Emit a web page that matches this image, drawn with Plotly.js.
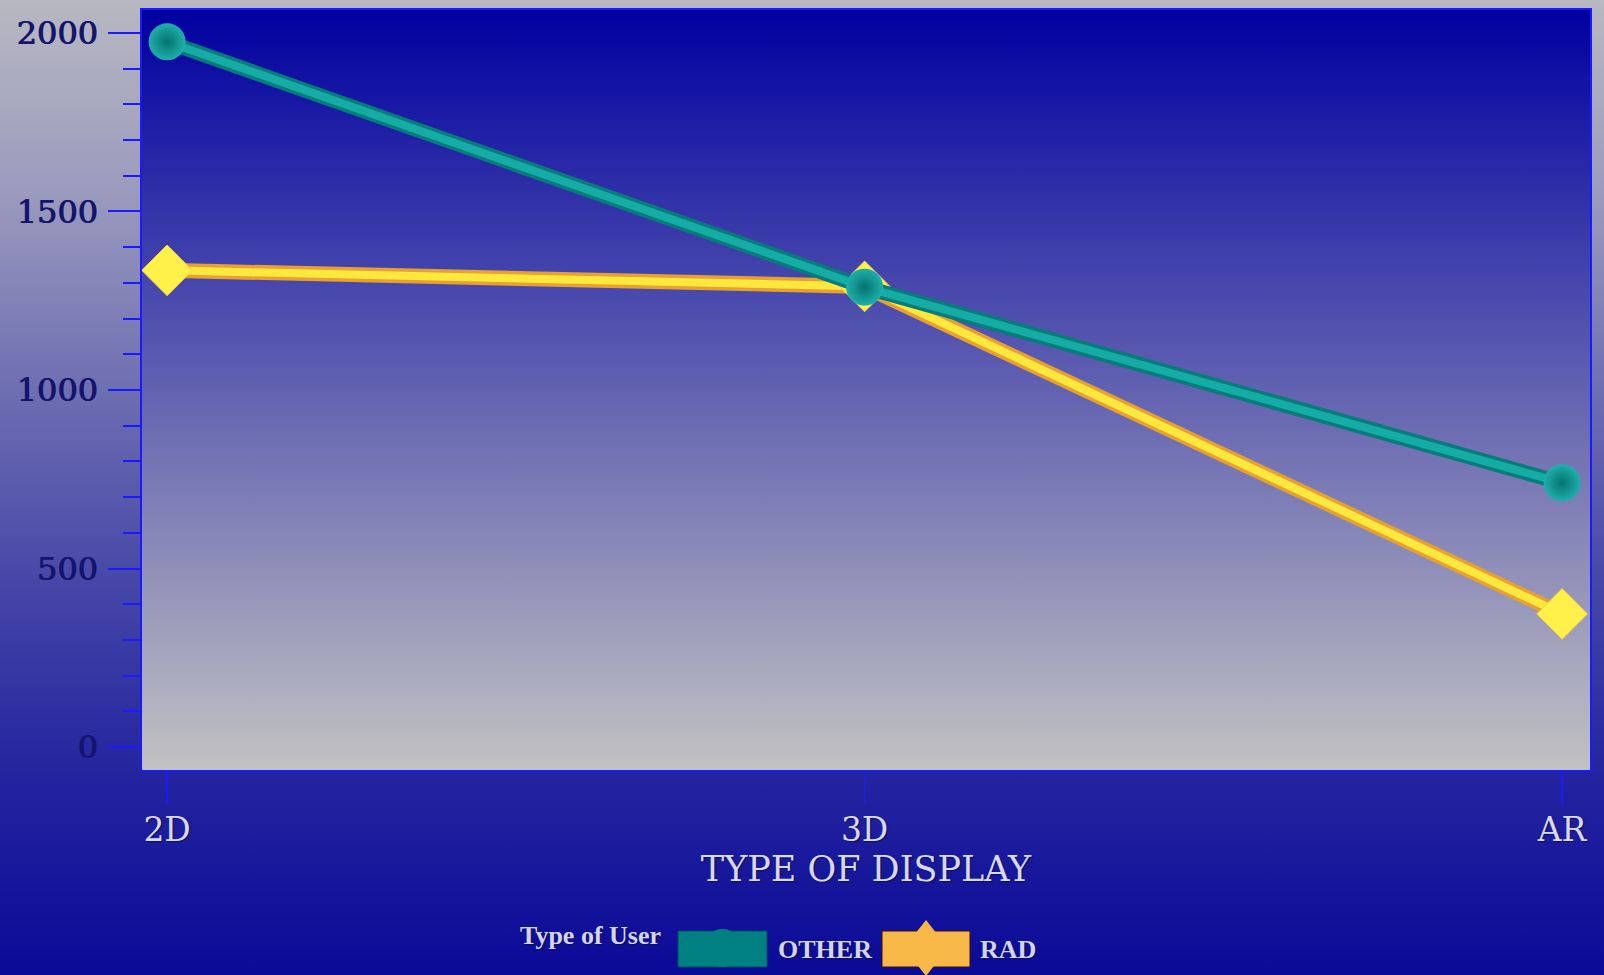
<!DOCTYPE html>
<html><head><meta charset="utf-8">
<script src="https://cdn.plot.ly/plotly-3.0.1.min.js"></script>
<style>
html,body{margin:0;padding:0;overflow:hidden;}
#chart{width:1604px;height:975px;background:linear-gradient(to bottom,#b8b8c2 0%,#9a9abd 20%,#6e6eb2 40%,#4646a8 60%,#2626a0 78%,#0a0a98 100%);}
</style></head><body><div id="chart"></div>
<script>
// ---- data ----
const categories = ['2D', '3D', 'AR'];
const otherValues = [1975, 1288, 740];
const radValues = [1335, 1290, 373];
const seriesNames = ['OTHER', 'RAD'];
const yTickValues = [0, 500, 1000, 1500, 2000];
const yTickLabels = ['0', '500', '1000', '1500', '2000'];
const legendTitle = 'Type of User';
const xTitle = 'TYPE OF DISPLAY';

// ---- layout geometry ----
const W = 1604, H = 975;
const M = {l: 142, r: 14, t: 10, b: 205};
const PW = W - M.l - M.r, PH = H - M.t - M.b;
const px = x => (x - M.l) / PW;
const py = y => (H - M.b - y) / PH;

const serif = 'DejaVu Serif, serif';
const serifNarrow = 'Liberation Serif, Times New Roman, serif';

const plotBg = 'data:image/svg+xml;charset=utf-8,' + encodeURIComponent(
  "<svg xmlns='http://www.w3.org/2000/svg' width='100' height='100' preserveAspectRatio='none'>" +
  "<defs><linearGradient id='g' x1='0' y1='0' x2='0' y2='1'>" +
  "<stop offset='0' stop-color='#0000a0'/><stop offset='0.5' stop-color='#6262b2'/><stop offset='1' stop-color='#c2c2c2'/>" +
  "</linearGradient></defs><rect width='100' height='100' fill='url(#g)'/></svg>");

const traces = [
  // RAD
  {x: categories, y: radValues, name: seriesNames[1], type: 'scatter', mode: 'lines',
   line: {color: '#e8a030', width: 15}, showlegend: false, hoverinfo: 'skip'},
  {x: categories, y: radValues, name: seriesNames[1], type: 'scatter', mode: 'lines+markers',
   line: {color: '#ffe83e', width: 8},
   marker: {symbol: 'diamond', size: 39, color: '#fff04a', line: {width: 1, color: '#f8d040'}},
   showlegend: false},
  // OTHER
  {x: categories, y: otherValues, name: seriesNames[0], type: 'scatter', mode: 'lines',
   line: {color: '#077c7a', width: 15}, showlegend: false, hoverinfo: 'skip'},
  {x: categories, y: otherValues, name: seriesNames[0], type: 'scatter', mode: 'lines+markers',
   line: {color: '#15aca6', width: 8},
   marker: {symbol: 'circle', size: 37, color: '#1eb0ac', gradient: {type: 'radial', color: '#06726e'}, line: {width: 0}},
   showlegend: false}
];

const textFontLight = {family: serifNarrow, size: 26, color: '#d4d4f2', weight: 'bold', shadow: '1px 1px 1px #10104a'};

const shapes = [
  // OTHER swatch
  {type: 'rect', xref: 'paper', yref: 'paper', x0: px(678), x1: px(767), y0: py(967), y1: py(931),
   fillcolor: '#008080', line: {width: 1, color: '#004a60'}},
  {type: 'circle', xref: 'paper', yref: 'paper', x0: px(704), x1: px(741), y0: py(967), y1: py(929),
   fillcolor: '#008080', line: {width: 0}},
  // RAD swatch
  {type: 'rect', xref: 'paper', yref: 'paper', x0: px(882), x1: px(970), y0: py(967), y1: py(931),
   fillcolor: '#f8b848', line: {width: 1, color: '#3a1010'}},
  {type: 'path', xref: 'paper', yref: 'paper',
   path: `M ${px(926)} ${py(920)} L ${px(948)} ${py(948)} L ${px(926)} ${py(976)} L ${px(904)} ${py(948)} Z`,
   fillcolor: '#f8b848', line: {width: 0}}
];

const annotations = [
  {xref: 'paper', yref: 'paper', x: px(518), y: py(935), xanchor: 'left', yanchor: 'middle', showarrow: false,
   text: legendTitle, font: Object.assign({}, textFontLight, {size: 26})},
  {xref: 'paper', yref: 'paper', x: px(776), y: py(949), xanchor: 'left', yanchor: 'middle', showarrow: false,
   text: seriesNames[0], font: textFontLight},
  {xref: 'paper', yref: 'paper', x: px(978), y: py(949), xanchor: 'left', yanchor: 'middle', showarrow: false,
   text: seriesNames[1], font: textFontLight}
];

const layout = {
  width: W, height: H,
  margin: M,
  paper_bgcolor: 'rgba(0,0,0,0)',
  plot_bgcolor: 'rgba(0,0,0,0)',
  showlegend: false,
  images: [{source: plotBg, xref: 'paper', yref: 'paper', x: 0, y: 1, sizex: 1, sizey: 1,
            sizing: 'stretch', layer: 'below', xanchor: 'left', yanchor: 'top'}],
  xaxis: {
    type: 'category', range: [-0.036, 2.04],
    showgrid: false, zeroline: false,
    showline: true, mirror: true, linecolor: '#1a1aff', linewidth: 2,
    ticks: 'outside', ticklen: 31, tickwidth: 1.5, tickcolor: '#1a1aff',
    ticklabelstandoff: -2,
    tickfont: {family: serif, size: 33, color: '#d8d8f2', shadow: '1px 1px 1px #10104a'},
    title: {text: xTitle, standoff: 0, font: {family: serif, size: 35, color: '#d8d8f2', shadow: '1px 1px 1px #10104a'}}
  },
  yaxis: {
    range: [-64, 2064],
    showgrid: false, zeroline: false,
    showline: true, mirror: true, linecolor: '#1a1aff', linewidth: 2,
    tickmode: 'array', tickvals: yTickValues, ticktext: yTickLabels,
    ticks: 'outside', ticklen: 32, tickwidth: 2, tickcolor: '#1a1aff',
    minor: {dtick: 100, tick0: 0, ticks: 'outside', ticklen: 17, tickwidth: 2, tickcolor: '#1a1aff', showgrid: false},
    ticklabelstandoff: 4,
    tickfont: {family: serif, size: 32, color: '#14146c', shadow: '1px 0px 0px #14146c'}
  },
  shapes: shapes,
  annotations: annotations
};

Plotly.newPlot('chart', traces, layout, {displayModeBar: false, staticPlot: true});
</script>
</body></html>
